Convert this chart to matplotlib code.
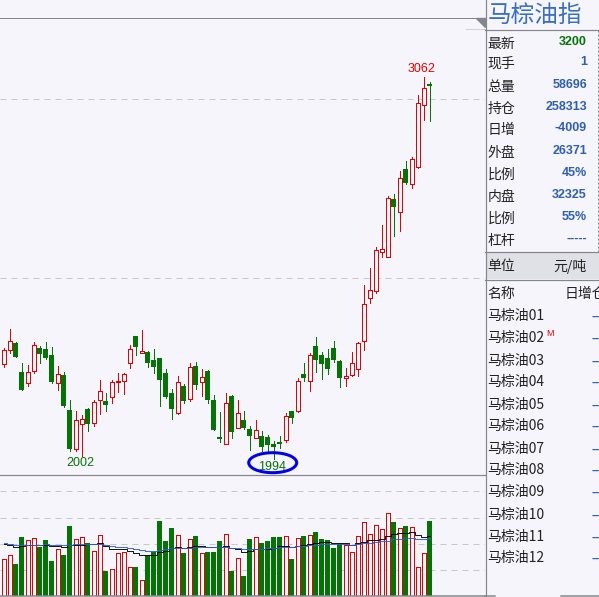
import matplotlib
matplotlib.use('Agg')
import matplotlib.pyplot as plt
from matplotlib.patches import Ellipse, Polygon, Rectangle
import numpy as np

opens = [2260.5, 2299.7, 2318.3, 2237.2, 2207.4, 2240.9, 2304.3, 2301.5, 2284.7, 2207.4, 2228.8, 2131.0,
         2022.8, 2092.7, 2133.8, 2095.5, 2158.0, 2156.1, 2168.2, 2210.2, 2213.0, 2261.4, 2337.9, 2291.3,
         2293.1, 2270.8, 2276.4, 2234.4, 2178.5, 2123.5, 2198.1, 2162.6, 2254.0, 2210.2, 2240.0, 2158.9,
         2055.5, 2035.0, 2170.1, 2079.7, 2103.0, 2077.8, 2051.7, 2058.3, 2055.5, 2035.9, 2041.5, 2046.1,
         2128.2, 2129.1, 2231.6, 2211.1, 2309.9, 2284.7, 2276.4, 2304.3, 2268.0, 2219.5, 2227.9, 2244.7,
         2323.0, 2445.1, 2462.8, 2573.7, 2559.8, 2721.0, 2685.6, 2804.9, 2763.9, 2811.4, 2984.8, 3042.5]
highs = [2304.3, 2357.4, 2321.0, 2262.4, 2256.8, 2320.2, 2309.9, 2321.0, 2307.1, 2254.0, 2237.2, 2158.9,
         2128.2, 2117.0, 2136.6, 2158.9, 2214.8, 2177.6, 2214.8, 2234.4, 2234.4, 2312.7, 2337.9, 2354.6,
         2295.9, 2301.5, 2276.4, 2245.6, 2188.7, 2226.0, 2203.7, 2262.4, 2265.2, 2245.6, 2242.8, 2172.9,
         2125.4, 2178.5, 2172.0, 2158.9, 2128.2, 2086.2, 2103.0, 2072.2, 2061.0, 2044.3, 2058.3, 2122.6,
         2128.2, 2220.4, 2262.4, 2290.3, 2335.0, 2293.1, 2301.5, 2323.9, 2270.8, 2248.4, 2293.1, 2321.0,
         2480.5, 2527.1, 2586.8, 2648.3, 2729.4, 2735.0, 2799.3, 2827.2, 2838.4, 3011.8, 3062.0, 3048.1]
lows = [2252.1, 2291.3, 2280.0, 2187.8, 2199.0, 2235.3, 2263.3, 2273.6, 2206.5, 2187.8, 2140.3, 2017.3,
        2017.3, 2002.0, 2073.2, 2087.2, 2120.7, 2129.1, 2151.5, 2181.3, 2176.6, 2249.3, 2285.7, 2291.3,
        2252.1, 2235.3, 2142.1, 2163.6, 2106.7, 2120.7, 2151.5, 2157.0, 2190.6, 2171.0, 2151.5, 2076.0,
        2042.4, 2035.0, 2053.6, 2079.7, 2078.8, 2020.1, 2051.7, 2017.3, 2011.7, 1994.0, 2025.6, 2042.4,
        2095.5, 2126.3, 2212.0, 2185.0, 2237.2, 2217.6, 2231.6, 2265.2, 2195.3, 2198.1, 2226.0, 2226.0,
        2298.7, 2431.1, 2458.2, 2559.8, 2559.8, 2617.5, 2631.5, 2762.9, 2751.7, 2807.7, 2941.9, 2939.1]
closes = [2297.8, 2322.9, 2280.0, 2187.8, 2236.3, 2311.8, 2288.5, 2277.3, 2209.2, 2230.7, 2142.1, 2021.9,
          2102.0, 2104.9, 2092.7, 2152.4, 2183.2, 2145.9, 2208.3, 2211.1, 2230.7, 2300.6, 2308.0, 2295.0,
          2263.3, 2252.1, 2215.8, 2167.3, 2134.7, 2208.3, 2157.0, 2250.3, 2201.8, 2222.3, 2159.9, 2076.0,
          2050.8, 2149.6, 2070.4, 2121.6, 2081.6, 2059.2, 2074.1, 2027.5, 2034.0, 2027.5, 2036.8, 2113.3,
          2108.6, 2211.1, 2220.4, 2283.8, 2271.7, 2259.6, 2245.6, 2270.8, 2220.4, 2225.1, 2261.4, 2317.4,
          2426.5, 2465.6, 2577.5, 2580.3, 2722.9, 2698.6, 2778.8, 2765.7, 2831.9, 2988.5, 3030.4, 3037.9]
volume = [28.7, 31.8, 25.1, 46.2, 43.6, 45.2, 38.4, 43.8, 27.4, 36.5, 32.1, 54.8,
          44.4, 45.9, 41.5, 35.0, 47.5, 19.6, 20.9, 33.4, 34.2, 22.4, 22.7, 12.3,
          32.1, 34.7, 58.7, 43.1, 53.2, 47.5, 33.7, 44.4, 47.0, 33.4, 34.5, 34.5,
          43.1, 48.3, 19.6, 29.5, 15.7, 44.6, 45.9, 41.5, 43.1, 46.2, 46.2, 46.7,
          29.0, 45.2, 47.0, 47.5, 50.1, 44.6, 43.8, 37.6, 40.7, 39.7, 34.2, 46.7,
          57.7, 48.3, 55.3, 52.2, 64.7, 57.9, 53.0, 54.8, 53.8, 22.4, 33.4, 58.7]
ma_short = [40.5, 39.9, 38.1, 39.2, 39.7, 39.7, 39.7, 39.7, 38.9, 38.9, 38.1, 39.9,
            40.2, 40.2, 40.5, 40.5, 41.2, 39.2, 36.5, 36.5, 36.5, 35.2, 33.4, 31.8,
            31.8, 31.8, 34.2, 35.5, 37.3, 38.1, 37.3, 38.1, 38.9, 38.9, 38.1, 38.1,
            38.1, 38.9, 37.3, 36.5, 34.2, 35.0, 36.5, 36.8, 36.8, 37.6, 38.9, 38.9,
            38.4, 39.4, 40.2, 40.5, 41.8, 42.0, 42.0, 41.2, 41.2, 41.2, 40.2, 41.2,
            42.5, 43.6, 44.1, 44.9, 47.2, 48.3, 49.1, 49.1, 49.9, 47.8, 45.9, 46.7]
ma_long = [41.2, 40.5, 39.7, 39.7, 39.9, 40.2, 40.2, 40.5, 39.7, 39.7, 39.7, 40.2,
           40.5, 40.5, 40.5, 40.5, 40.5, 39.9, 38.9, 38.1, 38.1, 37.3, 36.5, 35.8,
           35.0, 35.0, 36.0, 36.5, 37.3, 37.8, 37.8, 37.8, 38.1, 38.1, 38.1, 38.1,
           38.1, 38.6, 37.3, 37.3, 36.5, 36.5, 37.1, 37.1, 37.3, 37.8, 38.1, 38.4,
           38.6, 38.9, 38.9, 39.7, 39.9, 40.5, 40.5, 41.0, 41.0, 40.5, 40.2, 41.0,
           41.2, 41.2, 42.0, 42.8, 43.3, 44.4, 44.9, 45.2, 45.7, 44.4, 44.4, 45.2]
price_grid = [2500, 3000]
volume_grid = [20, 40.5, 61, 82]

title = '马棕油指'
quote_labels = ['最新', '现手', '总量', '持仓', '日增', '外盘', '比例', '内盘', '比例', '杠杆']
quote_values = ['3200', '1', '58696', '258313', '-4009', '26371', '45%', '32325', '55%', '-----']
contracts = ['马棕油01', '马棕油02', '马棕油03', '马棕油04', '马棕油05', '马棕油06',
             '马棕油07', '马棕油08', '马棕油09', '马棕油10', '马棕油11', '马棕油12']

BG = '#f5f5fb'
RED = '#e80000'
GREEN = '#067306'
GREY = '#85858c'
GRID = '#c8c8c8'
NUM_FONT = 'Liberation Sans'
W, H = 599, 597
PX = 72 / 100  # one pixel in points

plt.rcParams['font.family'] = ['Noto Sans CJK SC', 'DejaVu Sans']

fig = plt.figure(figsize=(W / 100, H / 100), dpi=100, facecolor=BG)


def px_axes(x0, y0, x1, y1):
    a = fig.add_axes([x0 / W, 1 - y1 / H, (x1 - x0) / W, (y1 - y0) / H], facecolor='none')
    a.set_axis_off()
    return a


x = np.arange(len(opens))
xlim = (-3.5 / 6, (485 - 3.5) / 6)
up = np.array(closes) >= np.array(opens)
body_lo = np.minimum(opens, closes)
body_hi = np.maximum(opens, closes)

# price panel
ax = px_axes(0, 0, 485, 474)
ax.set_xlim(xlim)
ax.set_ylim(1952, 3277)
for p in price_grid:
    ax.axhline(p, color=GRID, lw=1 * PX, dashes=(6, 5), zorder=1)
ax.vlines(x[up], np.array(lows)[up], np.array(highs)[up], color=RED, lw=1 * PX, zorder=2, antialiased=False)
ax.vlines(x[~up], np.array(lows)[~up], np.array(highs)[~up], color=GREEN, lw=1 * PX, zorder=2, antialiased=False)
ax.bar(x[up], (body_hi - body_lo)[up], bottom=body_lo[up], width=4 / 6, facecolor=BG,
       edgecolor=RED, lw=1 * PX, zorder=3, antialiased=False)
ax.bar(x[~up], (body_hi - body_lo)[~up], bottom=body_lo[~up], width=5 / 6, facecolor=GREEN,
       edgecolor=GREEN, lw=0, zorder=3, antialiased=False)
ax.text(12.75, 2000, '2002', color=GREEN, fontsize=9, family=NUM_FONT, ha='center', va='top')
ax.text(44.8, 1988, '1994', color=GREEN, fontsize=9, family=NUM_FONT, ha='center', va='top')
ax.text(69.7, 3066, '3062', color=RED, fontsize=9, family=NUM_FONT, ha='center', va='bottom')

# volume panel
vax = px_axes(0, 474, 485, 596)
vax.set_xlim(xlim)
vax.set_ylim(0, 95.5)
for v in volume_grid:
    vax.axhline(v, color=GRID, lw=1 * PX, dashes=(6, 5), zorder=1)
vol = np.array(volume)
vax.bar(x[up], vol[up], width=4 / 6, facecolor=BG, edgecolor=RED, lw=1 * PX, zorder=2, antialiased=False)
vax.bar(x[~up], vol[~up], width=5 / 6, facecolor=GREEN, edgecolor=GREEN, lw=0, zorder=2, antialiased=False)
vax.step(x, ma_short, where='mid', color='black', lw=0.9 * PX, zorder=4)
vax.step(x, ma_long, where='mid', color='#2a5fd8', lw=0.9 * PX, zorder=5)

# overlay for panel lines and text, in pixels
ov = fig.add_axes([0, 0, 1, 1], facecolor='none')
ov.set_xlim(0, W)
ov.set_ylim(H, 0)
ov.set_axis_off()
ov.add_patch(Ellipse((272.7, 462.7), 48, 20, fill=False, edgecolor='#0000ee', lw=3 * PX, zorder=6))
ov.plot([0, 485], [474.5, 474.5], color=GREY, lw=1.2 * PX)
ov.plot([0, 485], [596, 596], color=GREY, lw=1.5 * PX)
ov.plot([485.5, 485.5], [0, H], color=GREY, lw=1.2 * PX)
ov.plot([0, 485], [17.5, 17.5], color=GREY, lw=1 * PX)
ov.plot([466, 485], [28.5, 28.5], color='#d0d0d4', lw=1 * PX)
ov.add_patch(Polygon([[476, 18], [485, 18], [485, 27]], color=GREY))
ov.plot([485, W], [30, 30], color=GREY, lw=1.2 * PX)
ov.plot([597.5, 597.5], [30, 252], color=GREY, lw=1 * PX, dashes=(2, 2))
ov.add_patch(Rectangle((487, 253), 112, 26, color='#e0e1e6', lw=0))
ov.plot([485, W], [252, 252], color=GREY, lw=1.2 * PX)
ov.plot([485, W], [279.5, 279.5], color=GREY, lw=1.2 * PX)
ov.plot([485, 495], [596, 596], color=GREY, lw=1.5 * PX)
ov.plot([561, W], [596, 596], color=GREY, lw=1.5 * PX)

ov.text(488, 15.5, title, color='#3a6fc0', fontsize=17, ha='left', va='center')
row_y = [43, 63, 86, 108, 129, 152, 174, 196, 218, 240]
for i, (lab, val) in enumerate(zip(quote_labels, quote_values)):
    ov.text(487.5, row_y[i] + 1, lab, color='#222222', fontsize=10, ha='left', va='center')
    col = GREEN if i == 0 else '#2f5fb0'
    ov.text(587, row_y[i] - 1, val, color=col, fontsize=9, fontweight='bold', family=NUM_FONT,
            ha='right', va='center')
ov.text(487.5, 266, '单位', color='#222222', fontsize=10, ha='left', va='center')
ov.text(587, 266, '元/吨', color='#222222', fontsize=10, ha='right', va='center')
ov.text(487.5, 294, '名称', color='#222222', fontsize=10, ha='left', va='center')
ov.text(565, 294, '日增仓', color='#222222', fontsize=10, ha='left', va='center', clip_on=True)

list_y = [315, 337, 360, 381, 404, 425, 448, 469, 491, 514, 536, 557]
for i, name in enumerate(contracts):
    ov.text(487.5, list_y[i] + 1, name, color='#222222', fontsize=10, ha='left', va='center')
    ov.text(591.5, list_y[i] + 2, '--', color='#2f5fb0', fontsize=9, fontweight='bold', family=NUM_FONT,
            ha='left', va='center', clip_on=True)
ov.text(546, 334, 'M', color=RED, fontsize=6.5, family=NUM_FONT, ha='left', va='center')

fig.savefig('out.png', dpi=100, facecolor=BG)
